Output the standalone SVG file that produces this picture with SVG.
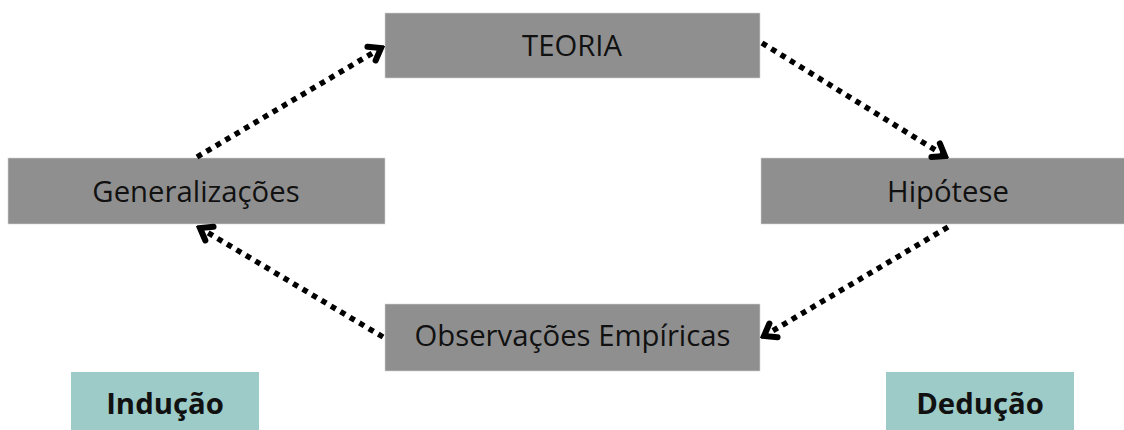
<svg xmlns="http://www.w3.org/2000/svg" width="1124" height="430" viewBox="0 0 1124 430">
<style>
.box{fill:#8f8f8f;stroke:#d4d4d4;stroke-width:0.6}
.tag{fill:#9ccbc8}
.lbl{font-family:"Open Sans","Noto Sans",sans-serif;font-size:29.3px;fill:#111;text-anchor:middle}
.bold{font-weight:bold}
.conn{stroke:#000;stroke-width:5.5;stroke-dasharray:5.5 5.5;fill:none;marker-end:url(#arr)}
</style>
<defs>
<marker id="arr" markerUnits="userSpaceOnUse" viewBox="-16 -12 20 24" markerWidth="20" markerHeight="24" refX="0" refY="0" orient="auto">
<path d="M -11 -8 L 0 0 L -11 8" fill="none" stroke="#000" stroke-width="6" stroke-linejoin="miter" stroke-linecap="round"/>
</marker>
</defs>
<g id="teoria"><rect class="box" x="385" y="13" width="375" height="65"/><text class="lbl" x="572" y="55.5">TEORIA</text></g>
<g id="generalizacoes"><rect class="box" x="8" y="158" width="377" height="66"/><text class="lbl" x="196" y="201.5">Generalizações</text></g>
<g id="hipotese"><rect class="box" x="761" y="158" width="375" height="66"/><text class="lbl" x="948" y="201.5">Hipótese</text></g>
<g id="observacoes"><rect class="box" x="385" y="304" width="375" height="67"/><text class="lbl" x="572.5" y="346">Observações Empíricas</text></g>
<g id="inducao"><rect class="tag" x="71" y="372" width="188" height="60"/><text class="lbl bold" x="165" y="413.5">Indução</text></g>
<g id="deducao"><rect class="tag" x="886" y="372" width="188" height="60"/><text class="lbl bold" x="980" y="413.5">Dedução</text></g>
<g id="connectors">
<line class="conn" x1="197" y1="157" x2="381" y2="48"/>
<line class="conn" x1="762" y1="43" x2="945" y2="156"/>
<line class="conn" x1="948" y1="227" x2="764" y2="336"/>
<line class="conn" x1="383" y1="337" x2="200" y2="228"/>
</g>
</svg>
